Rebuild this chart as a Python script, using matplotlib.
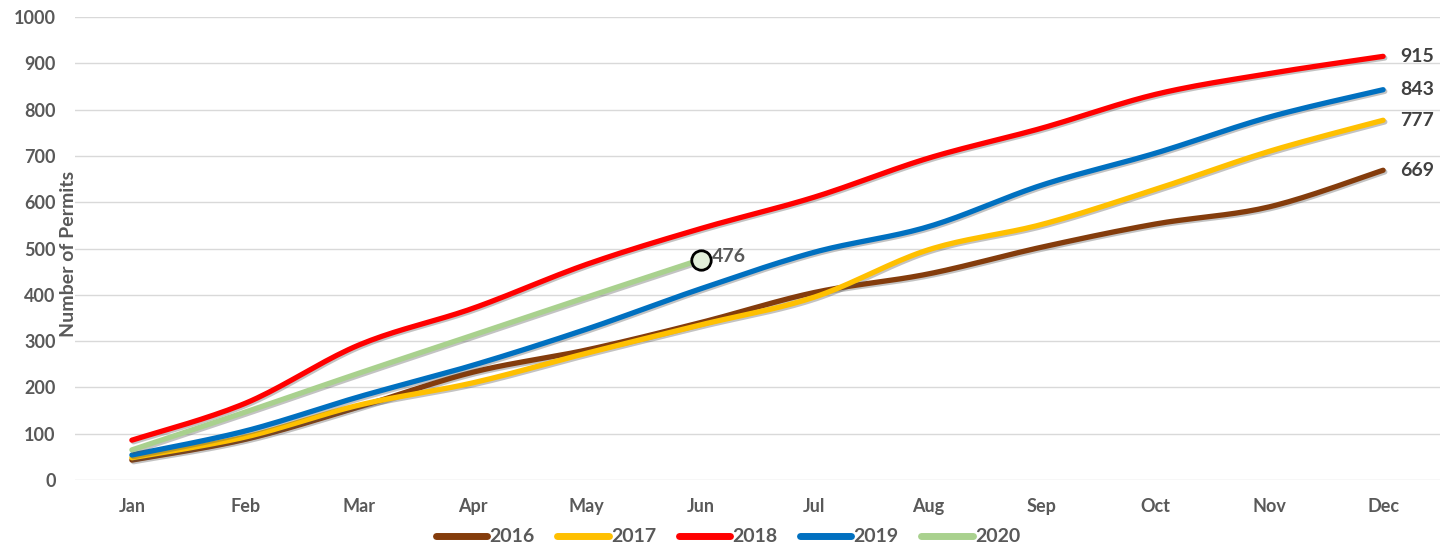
import numpy as np
import matplotlib
matplotlib.use("Agg")
import matplotlib.pyplot as plt
import matplotlib.patheffects as pe

months = ["Jan", "Feb", "Mar", "Apr", "May", "Jun", "Jul", "Aug", "Sep", "Oct", "Nov", "Dec"]
years = ["2016", "2017", "2018", "2019", "2020"]
v2016 = [43, 88, 158, 233, 281, 340, 405, 445, 503, 553, 590, 669]
v2017 = [48, 93, 162, 210, 274, 335, 395, 497, 552, 628, 710, 777]
v2018 = [86, 166, 292, 371, 466, 543, 611, 695, 760, 833, 878, 915]
v2019 = [54, 106, 180, 248, 326, 413, 492, 547, 637, 706, 784, 843]
v2020 = [65, 147, 231, 313, 395, 476]
colors = ["#843c0c", "#ffc000", "#ff0000", "#0070c0", "#a9d18e"]
series = [v2016, v2017, v2018, v2019, v2020]

plt.rcParams['font.family'] = ['Lato', 'DejaVu Sans']


def smooth(x, y, n=20):
    """Excel-like smoothing: Catmull-Rom via cubic Bezier segments."""
    x = np.asarray(x, float)
    y = np.asarray(y, float)
    P = np.column_stack([x, y])
    pts = []
    for i in range(len(P) - 1):
        p0 = P[i - 1] if i > 0 else P[i]
        p1 = P[i]
        p2 = P[i + 1]
        p3 = P[i + 2] if i + 2 < len(P) else P[i + 1]
        c1 = p1 + (p2 - p0) / 6.0
        c2 = p2 - (p3 - p1) / 6.0
        t = np.linspace(0, 1, n, endpoint=(i == len(P) - 2))[:, None]
        seg = ((1 - t) ** 3) * p1 + 3 * ((1 - t) ** 2) * t * c1 + 3 * (1 - t) * t ** 2 * c2 + t ** 3 * p2
        pts.append(seg)
    pts = np.vstack(pts)
    return pts[:, 0], pts[:, 1]


fig = plt.figure(figsize=(14.5, 5.48), dpi=100)
ax = fig.add_axes([75 / 1450, 1 - 480 / 548, (1440 - 75) / 1450, (480 - 17) / 548])

shadow = [pe.SimpleLineShadow(offset=(1.2, -1.2), alpha=0.35, shadow_color="#555555"), pe.Normal()]
for yr, vals, c in zip(years, series, colors):
    xs = np.arange(len(vals))
    sx, sy = smooth(xs, vals)
    ax.plot(sx, sy, color=c, lw=3.8, solid_capstyle="round", label=yr, path_effects=shadow, zorder=3)

# 2020 latest marker
ax.plot([len(v2020) - 1], [v2020[-1]], marker="o", ms=14, mfc="#e2efda", mec="black", mew=2, zorder=5)
ax.annotate(str(v2020[-1]), (len(v2020) - 1, v2020[-1]), xytext=(8, 2), textcoords="offset points",
            ha="left", va="center", fontsize=14, fontweight="bold", color="#595959", zorder=6)

for vals in [v2016, v2017, v2018, v2019]:
    ax.annotate(str(vals[-1]), (len(vals) - 1, vals[-1]), xytext=(12, 0), textcoords="offset points",
                ha="left", va="center", fontsize=14, fontweight="bold", color="#404040")

ax.set_xlim(-0.5, 11.5)
ax.set_ylim(0, 1000)
ax.set_yticks(np.arange(0, 1001, 100))
ax.set_xticks(np.arange(12))
ax.set_xticklabels(months)
ax.grid(axis="y", color="#d9d9d9", lw=1)
ax.set_axisbelow(True)
for s in ax.spines.values():
    s.set_visible(False)
ax.tick_params(length=0, colors="#595959", labelsize=13)
ax.tick_params(axis="x", pad=13)
ax.tick_params(axis="y", pad=14)
for lab in ax.get_xticklabels() + ax.get_yticklabels():
    lab.set_fontweight("bold")

fig.text(68 / 1450, 1 - 254 / 548, "Number of Permits", rotation=90, ha="center", va="center",
         fontsize=14, fontweight="bold", color="#595959")

leg = fig.legend(loc="center", bbox_to_anchor=(728 / 1450, 1 - 537 / 548), ncol=5, frameon=False,
                 handlelength=2.65, columnspacing=1.15, handletextpad=0.12,
                 prop={"size": 14, "weight": "bold"})
for t in leg.get_texts():
    t.set_color("#595959")
for h in leg.get_lines():
    h.set_linewidth(5)
    h.set_path_effects([])

fig.savefig("out.png", dpi=100)
